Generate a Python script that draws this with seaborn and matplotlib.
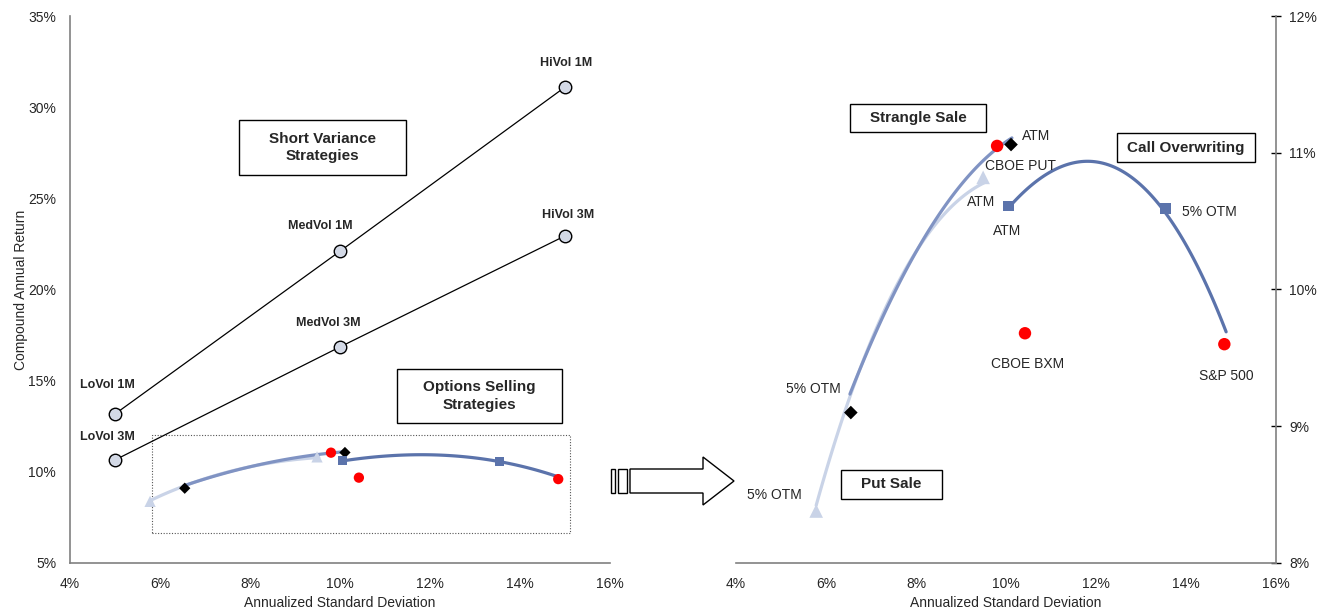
import matplotlib
matplotlib.use("Agg")
import matplotlib.pyplot as plt
import numpy as np
import seaborn as sns
from matplotlib.patches import Polygon, Rectangle
from matplotlib.ticker import FuncFormatter

# short variance strategies (left panel)
sv_1m_x = [5, 10, 15]
sv_1m_y = [13.17, 22.1, 31.1]
sv_1m_labels = ["LoVol 1M", "MedVol 1M", "HiVol 1M"]
sv_3m_x = [5, 10, 15]
sv_3m_y = [10.65, 16.85, 22.94]
sv_3m_labels = ["LoVol 3M", "MedVol 3M", "HiVol 3M"]

# options selling strategies
bench_x = [9.8, 10.42, 14.85]
bench_y = [11.05, 9.68, 9.6]
bench_labels = ["CBOE PUT", "CBOE BXM", "S&P 500"]
put_x = [5.78, 9.49]
put_y = [8.38, 10.82]
strangle_x = [6.55, 10.11]
strangle_y = [9.10, 11.06]
call_x = [10.05, 13.55]
call_y = [10.61, 10.59]

# trendlines
put_curve_x = [5.78, 6.31, 6.76, 7.42, 7.93, 8.53, 9.04, 9.53]
put_curve_y = [8.42, 8.99, 9.46, 9.90, 10.24, 10.53, 10.68, 10.78]
strangle_curve_x = [6.53, 6.91, 7.64, 8.38, 9.13, 10.13]
strangle_curve_y = [9.21, 9.56, 10.09, 10.46, 10.80, 11.12]
call_curve_x = [10.07, 10.76, 11.64, 12.53, 13.42, 14.09, 14.89]
call_curve_y = [10.60, 10.82, 10.93, 10.87, 10.62, 10.27, 9.69]

PUT_C = "#c9d3e7"
STR_C = "#8093c3"
CALL_C = "#5b73ab"
SPINE_C = "#808080"

sns.set_style("white")
plt.rcParams["font.family"] = ["Liberation Sans", "DejaVu Sans"]

fig = plt.figure(figsize=(13.33, 6.11), dpi=100)
ax1 = fig.add_axes([0.0525, 0.0786, 0.4051, 0.8952])
ax2 = fig.add_axes([0.5522, 0.0786, 0.4051, 0.8952])

pct = FuncFormatter(lambda v, p: f"{v:.0f}%")


def draw_options(ax, ms):
    for cx, cy, col, order in [(put_curve_x, put_curve_y, PUT_C, 3),
                               (strangle_curve_x, strangle_curve_y, STR_C, 2),
                               (call_curve_x, call_curve_y, CALL_C, 3)]:
        sns.regplot(x=cx, y=cy, order=order, ci=None, scatter=False, truncate=True,
                    ax=ax, line_kws=dict(color=col, lw=2.3, zorder=2))
    sns.scatterplot(x=put_x, y=put_y, marker="^", color=PUT_C, s=ms * 1.2,
                    edgecolor="none", ax=ax, zorder=3)
    sns.scatterplot(x=strangle_x, y=strangle_y, marker="D", color="black", s=ms * 0.6,
                    edgecolor="none", ax=ax, zorder=3)
    sns.scatterplot(x=call_x, y=call_y, marker="s", color=CALL_C, s=ms * 0.75,
                    edgecolor="none", ax=ax, zorder=3)
    sns.scatterplot(x=bench_x, y=bench_y, marker="o", color="red", s=ms,
                    edgecolor="none", ax=ax, zorder=3)


def boxed(ax, x0, y0, x1, y1, text):
    ax.add_patch(Rectangle((x0, y0), x1 - x0, y1 - y0, transform=ax.transAxes,
                           fill=True, facecolor="white", edgecolor="black",
                           lw=1.0, zorder=4))
    ax.text((x0 + x1) / 2, (y0 + y1) / 2, text, transform=ax.transAxes,
            ha="center", va="center", fontsize=11, fontweight="bold",
            linespacing=1.3, zorder=5)


# ---- left panel
for xs, ys in [(sv_1m_x, sv_1m_y), (sv_3m_x, sv_3m_y)]:
    sns.lineplot(x=xs, y=ys, color="black", lw=0.9, marker="o", markersize=9,
                 markerfacecolor="#d3d9e6", markeredgecolor="black",
                 markeredgewidth=1.0, ax=ax1, zorder=3)

ax1.add_patch(Rectangle((5.82, 6.65), 15.11 - 5.82, 12.02 - 6.65, fill=False,
                        edgecolor="#555555", lw=0.8, ls=(0, (1, 1.5)), zorder=1))
draw_options(ax1, 55)

sv_label_pos = {
    "LoVol 1M": (4.84, 14.76), "MedVol 1M": (9.56, 23.49), "HiVol 1M": (15.02, 32.43),
    "LoVol 3M": (4.84, 11.91), "MedVol 3M": (9.73, 18.17), "HiVol 3M": (15.07, 24.09),
}
for lab, (tx, ty) in sv_label_pos.items():
    ax1.text(tx, ty, lab, ha="center", va="center", fontsize=9, fontweight="bold")

boxed(ax1, 0.313, 0.709, 0.622, 0.810, "Short Variance\nStrategies")
boxed(ax1, 0.6056, 0.256, 0.911, 0.355, "Options Selling\nStrategies")

ax1.set_xlim(4, 16)
ax1.set_ylim(5, 35)
ax1.set_xticks(range(4, 17, 2))
ax1.set_yticks(range(5, 36, 5))
ax1.set_ylabel("Compound Annual Return", fontsize=10, labelpad=0)
ax1.spines[["top", "right"]].set_visible(False)

# ---- right panel
draw_options(ax2, 80)

right_labels = [
    ("ATM", 10.36, 11.12, "left"),
    ("CBOE PUT", 10.33, 10.90, "center"),
    ("ATM", 9.44, 10.64, "center"),
    ("ATM", 10.02, 10.43, "center"),
    ("5% OTM", 14.51, 10.57, "center"),
    ("CBOE BXM", 10.47, 9.455, "center"),
    ("S&P 500", 14.89, 9.37, "center"),
    ("5% OTM", 5.71, 9.27, "center"),
    ("5% OTM", 4.84, 8.50, "center"),
]
for lab, tx, ty, ha in right_labels:
    ax2.text(tx, ty, lab, ha=ha, va="center", fontsize=10)

boxed(ax2, 0.211, 0.788, 0.463, 0.839, "Strangle Sale")
boxed(ax2, 0.7056, 0.733, 0.961, 0.786, "Call Overwriting")
boxed(ax2, 0.194, 0.117, 0.381, 0.170, "Put Sale")

ax2.set_xlim(4, 16)
ax2.set_ylim(8, 12)
ax2.set_xticks(range(4, 17, 2))
ax2.set_yticks(range(8, 13, 1))
ax2.yaxis.tick_right()
ax2.spines[["top", "left"]].set_visible(False)
ax2.spines["right"].set_visible(True)

for ax in (ax1, ax2):
    ax.xaxis.set_major_formatter(pct)
    ax.yaxis.set_major_formatter(pct)
    ax.set_xlabel("Annualized Standard Deviation", fontsize=10, labelpad=4)
    for s in ax.spines.values():
        s.set_color(SPINE_C)
        s.set_linewidth(1.2)
    ax.tick_params(axis="both", labelsize=10, length=4, width=1, color="black",
                   direction="out", pad=6)
ax2.tick_params(axis="y", direction="inout", length=7, pad=6)

# arrow between panels
def fpt(px, py):
    return (px / 1333, 1 - py / 611)

arrow_px = [(630, 469), (703, 469), (703, 457), (734, 481), (703, 505), (703, 493), (630, 493)]
fig.patches.append(Polygon([fpt(*p) for p in arrow_px], closed=True, transform=fig.transFigure,
                           facecolor="white", edgecolor="black", lw=1.0))
for x0, x1 in [(611, 615), (618, 627)]:
    fig.patches.append(Polygon([fpt(x0, 469), fpt(x1, 469), fpt(x1, 493), fpt(x0, 493)],
                               closed=True, transform=fig.transFigure,
                               facecolor="white", edgecolor="black", lw=1.0))

fig.savefig("out.png", dpi=100)
